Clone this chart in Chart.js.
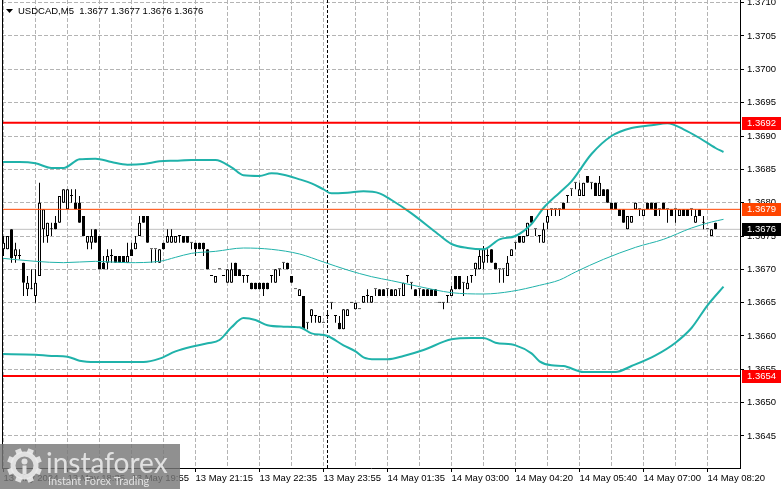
<!DOCTYPE html>
<html>
<head>
<meta charset="utf-8">
<script src="https://cdn.jsdelivr.net/npm/chart.js@4.4.1/dist/chart.umd.min.js"></script>
<style>
  html, body { margin: 0; padding: 0; background: #fff; overflow: hidden; }
</style>
</head>
<body>
<canvas id="usdcad" width="781" height="489"></canvas>
<script>
const FONT = '"Liberation Sans", Arial, sans-serif';

// USDCAD M5 candles, one per bar (bar 0 = 13 May 17:15)
const opens = [
  1.3673,1.3673,1.3676,1.3672,1.3672,1.3671,1.3667,1.3667,1.3666,1.3669,
  1.3676,1.3675,1.3676,1.3677,1.3677,1.3680,1.3679,1.3681,1.3680,1.3680,
  1.3678,1.3674,1.3674,1.3676,1.3675,1.3671,1.3671,1.3672,1.3672,1.3672,
  1.3672,1.3671,1.3673,1.3673,1.3675,1.3678,1.3678,1.3673,1.3673,1.3671,
  1.3674,1.3674,1.3674,1.3674,1.3675,1.3675,1.3675,1.3674,1.3674,1.3674,
  1.3674,1.3673,1.3669,1.3668,1.3670,1.3669,1.3668,1.3668,1.3671,1.3670,
  1.3669,1.3669,1.3668,1.3668,1.3668,1.3668,1.3668,1.3669,1.3668,1.3670,
  1.3671,1.3671,1.3669,1.3667,1.3666,1.3666,1.3662,1.3663,1.3663,1.3662,
  1.3662,1.3663,1.3665,1.3663,1.3662,1.3661,1.3663,1.3665,1.3664,1.3664,
  1.3665,1.3666,1.3665,1.3667,1.3667,1.3667,1.3667,1.3667,1.3666,1.3667,
  1.3666,1.3669,1.3668,1.3667,1.3667,1.3667,1.3667,1.3667,1.3667,1.3665,
  1.3665,1.3666,1.3666,1.3669,1.3669,1.3668,1.3667,1.3669,1.3670,1.3670,
  1.3671,1.3672,1.3673,1.3671,1.3670,1.3670,1.3669,1.3672,1.3674,1.3675,
  1.3674,1.3675,1.3678,1.3676,1.3675,1.3674,1.3677,1.3679,1.3679,1.3679,
  1.3680,1.3681,1.3682,1.3683,1.3681,1.3681,1.3684,1.3683,1.3683,1.3681,
  1.3682,1.3682,1.3680,1.3680,1.3679,1.3679,1.3676,1.3677,1.3679,1.3679,
  1.3678,1.3680,1.3680,1.3680,1.3679,1.3680,1.3679,1.3679,1.3679,1.3678,
  1.3679,1.3679,1.3679,1.3677,1.3679,1.3677,1.3676,1.3675,1.3677
];
const highs = [
  1.3675,1.3675,1.3676,1.3674,1.3673,1.3671,1.3669,1.3670,1.3670,1.3683,
  1.3679,1.3677,1.3677,1.3678,1.3681,1.3682,1.3682,1.3682,1.3682,1.3681,
  1.3678,1.3675,1.3676,1.3676,1.3675,1.3672,1.3673,1.3673,1.3672,1.3672,
  1.3672,1.3674,1.3674,1.3675,1.3678,1.3678,1.3678,1.3673,1.3673,1.3673,
  1.3674,1.3676,1.3676,1.3675,1.3675,1.3675,1.3675,1.3674,1.3674,1.3674,
  1.3674,1.3673,1.3669,1.3669,1.3670,1.3669,1.3670,1.3671,1.3671,1.3670,
  1.3669,1.3669,1.3668,1.3668,1.3668,1.3668,1.3668,1.3669,1.3670,1.3670,
  1.3671,1.3671,1.3669,1.3667,1.3667,1.3666,1.3662,1.3664,1.3663,1.3663,
  1.3662,1.36635,1.3665,1.3663,1.3663,1.3664,1.3664,1.3665,1.3665,1.3664,
  1.3666,1.3667,1.3666,1.3667,1.3667,1.3667,1.3667,1.3667,1.3667,1.3667,
  1.3668,1.3669,1.3668,1.3667,1.3667,1.3667,1.3667,1.3667,1.3667,1.3665,
  1.3665,1.3666,1.36675,1.3669,1.3669,1.3668,1.3669,1.3669,1.3671,1.3673,
  1.36735,1.3673,1.3673,1.3671,1.3670,1.3670,1.3672,1.3673,1.3674,1.3675,
  1.3675,1.3677,1.3678,1.3676,1.3675,1.3677,1.3679,1.3679,1.3679,1.3679,
  1.3680,1.3681,1.3682,1.3683,1.3683,1.3683,1.3684,1.3683,1.3683,1.3684,
  1.3682,1.3682,1.3680,1.3680,1.3679,1.3679,1.3678,1.3678,1.3680,1.3679,
  1.3679,1.3680,1.3680,1.3680,1.3679,1.3680,1.3679,1.3679,1.3679,1.3679,
  1.3679,1.3679,1.3679,1.3679,1.3679,1.3678,1.3676,1.3676,1.3677
];
const lows = [
  1.3672,1.3673,1.3671,1.3671,1.36715,1.3666,1.3666,1.3667,1.3665,1.3669,
  1.3674,1.3674,1.3675,1.3676,1.3677,1.3680,1.3679,1.3680,1.3679,1.3677,
  1.3675,1.3673,1.3673,1.3674,1.3670,1.3670,1.3670,1.3671,1.3671,1.3671,
  1.3671,1.3671,1.3672,1.3673,1.3675,1.3677,1.3674,1.3671,1.3671,1.3671,
  1.3673,1.3674,1.3674,1.3674,1.3674,1.3674,1.3674,1.3673,1.3672,1.3673,
  1.3672,1.3670,1.3669,1.3668,1.3670,1.3669,1.3668,1.3668,1.3669,1.3669,
  1.3668,1.3668,1.3667,1.3667,1.3667,1.3666,1.3667,1.3668,1.3668,1.3669,
  1.3670,1.3670,1.3668,1.3667,1.3666,1.3661,1.3661,1.3662,1.3662,1.3662,
  1.3662,1.36625,1.3664,1.3662,1.3661,1.3661,1.3663,1.3665,1.3664,1.3664,
  1.3665,1.3665,1.3665,1.3666,1.3666,1.3666,1.3666,1.3666,1.3666,1.3666,
  1.3666,1.3668,1.3667,1.3666,1.3666,1.3666,1.3666,1.3666,1.3666,1.3665,
  1.3664,1.3665,1.3666,1.3667,1.3667,1.3666,1.3667,1.3668,1.3669,1.3670,
  1.3670,1.3671,1.3671,1.3670,1.3668,1.3668,1.3669,1.3672,1.3673,1.3674,
  1.3674,1.3675,1.3677,1.3675,1.3674,1.3674,1.3676,1.3678,1.3678,1.3678,
  1.3679,1.3680,1.3681,1.3682,1.3681,1.3681,1.3683,1.3682,1.3681,1.3681,
  1.3681,1.3680,1.3679,1.3679,1.3678,1.3677,1.3676,1.3677,1.3679,1.3678,
  1.3678,1.3679,1.3679,1.3678,1.3678,1.3679,1.3677,1.3678,1.3677,1.3678,
  1.3678,1.3678,1.3678,1.3677,1.3678,1.3676,1.3676,1.3675,1.3676
];
const closes = [
  1.3674,1.3675,1.36717,1.3673,1.3672,1.3668,1.3668,1.3667,1.3668,1.3680,
  1.3679,1.3677,1.3676,1.3676,1.3681,1.3682,1.3682,1.3681,1.3679,1.3677,
  1.3675,1.3675,1.3675,1.3674,1.3670,1.3670,1.3672,1.3672,1.3671,1.3671,
  1.3671,1.3672,1.3672,1.3674,1.3677,1.3677,1.3674,1.3673,1.3673,1.3673,
  1.3673,1.3675,1.3675,1.3675,1.3675,1.3674,1.3674,1.3674,1.3673,1.3673,
  1.3673,1.3670,1.3669,1.3669,1.3670,1.3669,1.3670,1.3670,1.3669,1.3669,
  1.3669,1.3669,1.3667,1.3667,1.3667,1.3667,1.3667,1.3669,1.3670,1.3670,
  1.3671,1.3670,1.3668,1.3667,1.3667,1.3661,1.3662,1.3664,1.3663,1.3663,
  1.3662,1.3663,1.3665,1.3663,1.3661,1.3664,1.3664,1.3665,1.3665,1.3664,
  1.3666,1.3666,1.3666,1.3667,1.3666,1.3666,1.3667,1.3666,1.3667,1.3667,
  1.3668,1.3669,1.3668,1.3666,1.3667,1.3666,1.3666,1.3666,1.3666,1.3665,
  1.3665,1.3666,1.3667,1.3667,1.3667,1.3668,1.3668,1.3669,1.3671,1.3672,
  1.3673,1.3672,1.3671,1.3670,1.3670,1.3670,1.3671,1.3673,1.3674,1.3674,
  1.3675,1.3677,1.3677,1.3676,1.3675,1.3676,1.3678,1.3679,1.3679,1.3679,
  1.3679,1.3681,1.3682,1.3683,1.3682,1.3683,1.3683,1.3683,1.3681,1.3683,
  1.3681,1.3680,1.3679,1.3679,1.3678,1.3677,1.3678,1.3678,1.3680,1.3679,
  1.3679,1.3679,1.3679,1.3678,1.3679,1.3679,1.3679,1.3678,1.3679,1.3679,
  1.3678,1.3678,1.3679,1.3678,1.3678,1.3677,1.3676,1.3676,1.3676
];

// Bollinger bands, read at sampled bars
const upperIdx = [-1,4,8,12,15,19,23,27,31,35,39,43,47,53,57,60,64,67,70,74,77,80,82,86,90,94,97,102,108,112,116,120,124,128,132,135,139,142,147,152,157,162,166,170,174,178,180];
const upperBand = [1.36861,1.36861,1.36859,1.36852,1.36852,1.36865,1.36866,1.36861,1.36857,1.36858,1.36862,1.36863,1.36864,1.36864,1.36853,1.36841,1.36840,1.36844,1.36842,1.36835,1.36829,1.36820,1.36814,1.36815,1.36817,1.36814,1.36804,1.36784,1.36756,1.36738,1.36732,1.36730,1.36745,1.36750,1.36768,1.36792,1.36815,1.36832,1.36873,1.36900,1.36912,1.36916,1.36919,1.36910,1.36897,1.36882,1.36876];
const midIdx = [-1,8,15,23,31,39,43,47,53,60,67,74,80,86,92,97,104,112,120,127,134,139,143,150,158,165,172,177,180];
const midBand = [1.36717,1.36712,1.36710,1.36712,1.36710,1.36712,1.36718,1.36724,1.36727,1.36732,1.36730,1.36723,1.36711,1.36699,1.36689,1.36683,1.36674,1.36665,1.36663,1.36667,1.36676,1.36684,1.36696,1.36715,1.36733,1.36745,1.36762,1.36771,1.36775];
const lowIdx = [-1,8,12,16,19,23,35,39,43,47,51,54,57,60,63,66,70,74,77,81,85,88,90,93,96,100,105,112,117,120,123,128,132,134,137,140,145,153,157,163,168,172,176,180];
const lowBand = [1.36573,1.36572,1.36570,1.36569,1.36563,1.36561,1.36561,1.36566,1.36577,1.36584,1.36589,1.36594,1.36613,1.36627,1.36624,1.36616,1.36614,1.36613,1.36604,1.36600,1.36586,1.36577,1.36568,1.36565,1.36565,1.36570,1.36579,1.36595,1.36597,1.36597,1.36590,1.36586,1.36574,1.36562,1.36556,1.36555,1.36546,1.36546,1.36555,1.36571,1.36590,1.36612,1.36646,1.36674];

// axis labels (one time label every 16 bars)
const timeLabels = ['13 May 2024','13 May 18:35','13 May 19:55','13 May 21:15','13 May 22:35','13 May 23:55','14 May 01:35','14 May 03:00','14 May 04:20','14 May 05:40','14 May 07:00','14 May 08:20'];
const priceTicks = [1.3645,1.3650,1.3655,1.3660,1.3665,1.3670,1.3675,1.3680,1.3685,1.3690,1.3695,1.3700,1.3705,1.3710];

// horizontal levels
const redLevels = [1.3692, 1.3654];
const orangeLevel = 1.3679;
const bidLevel = 1.3676;
const dayStartBar = 81;   // 14 May 00:00

const xMin = -0.375, xMax = 184.125;
const yMin = 1.36402, yMax = 1.37104;

const barIdx = opens.map((o, i) => i);
const wicks = barIdx.map(i => ({ x: i, y: [lows[i], highs[i]] }));
const bodies = barIdx.map(i => ({ x: i, y: [opens[i], closes[i]] }));
const bodyColors = barIdx.map(i => closes[i] > opens[i] ? '#ffffff' : '#000000');
const pts = (idx, vals) => idx.map((x, k) => ({ x: x, y: vals[k] }));
const hline = v => [{ x: xMin, y: v }, { x: xMax, y: v }];

const gridTicks = [];
timeLabels.forEach((t, k) => { gridTicks.push(k * 16); if (k * 16 + 8 < xMax - 2) gridTicks.push(k * 16 + 8); });

function levelLine(v, color, width, order) {
  return { type: 'line', data: hline(v), borderColor: color, borderWidth: width, pointRadius: 0, order: order };
}
function bandLine(idx, vals, width) {
  return { type: 'line', data: pts(idx, vals), borderColor: '#20b2aa', borderWidth: width,
           pointRadius: 0, cubicInterpolationMode: 'monotone', order: 2 };
}

const decor = {
  id: 'decor',
  afterDraw(chart) {
    const ctx = chart.ctx, a = chart.chartArea, ys = chart.scales.y;
    ctx.save();
    // left frame
    ctx.strokeStyle = '#000'; ctx.lineWidth = 1;
    ctx.beginPath(); ctx.moveTo(a.left + 0.5, a.top); ctx.lineTo(a.left + 0.5, a.bottom); ctx.stroke();

    // price badges on the right axis
    const badges = [[redLevels[0], '#ff0000'], [orangeLevel, '#ff4500'], [bidLevel, '#000000'], [redLevels[1], '#ff0000']];
    ctx.font = '9.5px ' + FONT; ctx.textBaseline = 'middle'; ctx.textAlign = 'left';
    badges.forEach(([v, bg]) => {
      const py = Math.round(ys.getPixelForValue(v));
      ctx.fillStyle = bg;
      ctx.fillRect(a.right + 2, py - 6, 40, 13);
      ctx.fillStyle = '#fff';
      ctx.fillText(v.toFixed(4), a.right + 7, py + 0.5);
    });

    // title
    const n = opens.length - 1;
    ctx.fillStyle = '#000';
    ctx.beginPath(); ctx.moveTo(6, 9); ctx.lineTo(13, 9); ctx.lineTo(9.5, 13); ctx.closePath(); ctx.fill();
    ctx.fillText('USDCAD,M5  ' + [opens[n], highs[n], lows[n], closes[n]].map(v => v.toFixed(4)).join(' '), 18, 11);

    // watermark
    ctx.fillStyle = 'rgba(120,120,120,0.82)';
    ctx.fillRect(0, 444, 180, 45);
    ctx.fillStyle = 'rgba(235,235,235,0.9)';
    ctx.strokeStyle = 'rgba(235,235,235,0.9)';
    const cx = 24.5, cy = 465.5;
    ctx.lineWidth = 5;
    ctx.beginPath(); ctx.arc(cx, cy, 11.5, 0, Math.PI * 2); ctx.stroke();
    for (let k = 0; k < 8; k++) {
      ctx.save(); ctx.translate(cx, cy); ctx.rotate(k * Math.PI / 4 + Math.PI / 8);
      ctx.fillRect(-3, -17.5, 6, 5); ctx.restore();
    }
    ctx.beginPath(); ctx.arc(cx, cy - 4, 3, 0, Math.PI * 2); ctx.fill();
    ctx.fillRect(cx - 2, cy, 4, 9);
    ctx.textBaseline = 'alphabetic';
    ctx.font = '28px Lato, ' + FONT;
    ctx.fillText('instaforex', 46, 473);
    ctx.font = '11px Lato, ' + FONT;
    ctx.fillText('Instant Forex Trading', 48, 485);
    ctx.restore();
  }
};

new Chart(document.getElementById('usdcad').getContext('2d'), {
  type: 'bar',
  data: {
    datasets: [
      levelLine(redLevels[0], '#ff0000', 2, 0),
      levelLine(redLevels[1], '#ff0000', 2, 0),
      levelLine(orangeLevel, '#ff4500', 1, 0),
      levelLine(bidLevel, '#c0c0c0', 1, 6),
      { type: 'line', data: [{ x: dayStartBar, y: yMin }, { x: dayStartBar, y: yMax }],
        borderColor: '#000', borderWidth: 1, borderDash: [3, 2], pointRadius: 0, order: 6 },
      bandLine(upperIdx, upperBand, 2),
      bandLine(midIdx, midBand, 1),
      bandLine(lowIdx, lowBand, 2),
      { data: bodies, backgroundColor: bodyColors, borderColor: '#000', borderWidth: 1,
        borderSkipped: false, minBarLength: 1, grouped: false, barPercentage: 1,
        categoryPercentage: 1, maxBarThickness: 3, inflateAmount: 0, order: 3 },
      { data: wicks, backgroundColor: '#000', borderWidth: 0, grouped: false, barPercentage: 1,
        categoryPercentage: 1, maxBarThickness: 1, inflateAmount: 0, order: 4 }
    ]
  },
  options: {
    responsive: false,
    devicePixelRatio: 1,
    animation: false,
    events: [],
    layout: { padding: { left: 2, top: 0, right: 0, bottom: 0 } },
    plugins: { legend: { display: false }, tooltip: { enabled: false } },
    scales: {
      x: {
        type: 'linear', min: xMin, max: xMax, offset: false,
        afterBuildTicks: s => { s.ticks = gridTicks.map(v => ({ value: v })); },
        afterFit: s => { s.height = 21; s.paddingLeft = 0; s.paddingRight = 0; },
        grid: { color: '#b4b4b4', lineWidth: 1, offset: false, tickLength: 4, tickBorderDash: [],
                tickColor: c => (c.tick && c.tick.value % 16 === 0) ? '#000' : 'rgba(0,0,0,0)' },
        border: { color: '#000', dash: [4, 2] },
        ticks: { autoSkip: false, maxRotation: 0, minRotation: 0, align: 'start', padding: 1,
                 color: '#000', font: { family: FONT, size: 9.5 },
                 callback: v => v % 16 === 0 ? timeLabels[v / 16] : '' }
      },
      y: {
        position: 'right', min: yMin, max: yMax,
        afterBuildTicks: s => { s.ticks = priceTicks.map(v => ({ value: v })); },
        afterFit: s => { s.width = 41; s.paddingTop = 0; s.paddingBottom = 0; },
        grid: { color: '#b4b4b4', lineWidth: 1, tickLength: 4, tickColor: '#000', tickBorderDash: [] },
        border: { color: '#000', dash: [4, 2] },
        ticks: { padding: 3, color: '#000', font: { family: FONT, size: 9.5 },
                 callback: v => v.toFixed(4) }
      }
    }
  },
  plugins: [decor]
});
</script>
</body>
</html>
